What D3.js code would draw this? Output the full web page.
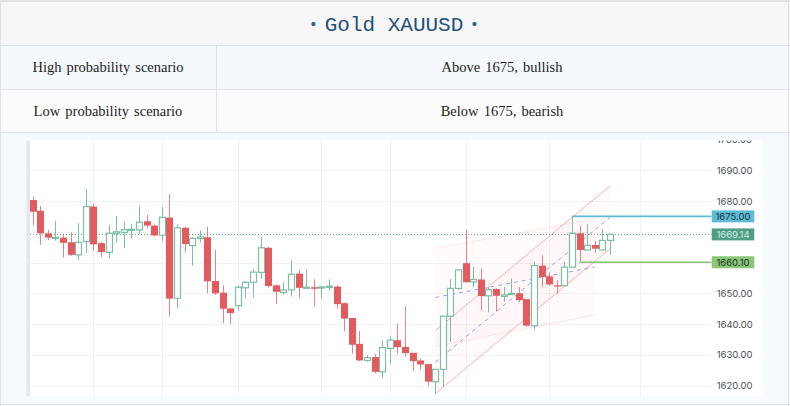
<!DOCTYPE html>
<html>
<head>
<meta charset="utf-8">
<script src="https://cdn.jsdelivr.net/npm/d3@7"></script>
<style>
html,body{margin:0;padding:0;background:#fff;}
svg{display:block;}
</style>
</head>
<body>
<svg id="c" width="790" height="406"></svg>
<script>
// ---------------- DATA ----------------
const titleText = "Gold XAUUSD";
const rowLabels = ["High probability scenario", "Low probability scenario"];
const rowValues = ["Above 1675, bullish", "Below 1675, bearish"];

const opens  = [1680.3,1676.8,1669.5,1667.9,1668.1,1666.6,1662.5,1666.8,1678.2,1666.3,1663.3,1669.5,1669.8,1670.6,1670.6,1673.4,1672.0,1668.9,1674.6,1648.4,1671.3,1665.5,1667.8,1668.2,1654.0,1650.2,1645.1,1646.0,1651.8,1653.6,1656.8,1664.8,1652.6,1650.3,1651.1,1656.4,1651.7,1652.0,1651.7,1652.0,1652.2,1646.8,1642.0,1633.6,1628.2,1629.3,1624.5,1632.1,1634.8,1632.6,1630.7,1628.2,1627.0,1621.3,1625.3,1642.6,1651.6,1659.8,1653.7,1654.5,1649.2,1651.4,1649.0,1649.7,1650.0,1648.1,1639.5,1659.0,1655.5,1652.6,1652.5,1658.5,1669.5,1664.1,1665.7,1664.1,1667.2];
const highs  = [1681.4,1678.4,1670.6,1673.5,1669.3,1669.8,1672.8,1683.8,1679.0,1666.7,1672.2,1675.1,1673.0,1672.6,1678.2,1675.5,1672.4,1678.0,1682.3,1672.4,1671.6,1668.2,1670.4,1671.7,1664.1,1652.6,1645.1,1652.6,1654.0,1657.9,1668.4,1665.2,1652.8,1653.5,1660.8,1657.6,1657.6,1654.6,1652.4,1654.6,1652.6,1647.0,1642.0,1637.8,1630.0,1630.3,1634.7,1636.2,1640.0,1645.7,1630.7,1628.9,1627.0,1625.3,1642.6,1654.6,1657.8,1670.6,1658.6,1658.1,1652.0,1651.6,1652.1,1654.8,1652.1,1648.1,1660.3,1662.4,1656.8,1654.3,1660.3,1675.0,1671.9,1672.5,1667.0,1670.8,1669.3];
const lows   = [1672.0,1665.7,1667.3,1667.1,1661.6,1662.2,1660.8,1663.2,1663.8,1661.7,1661.3,1666.5,1664.7,1667.7,1669.3,1671.1,1668.5,1667.0,1642.4,1645.1,1663.2,1659.0,1666.5,1650.0,1649.5,1640.3,1640.0,1644.4,1648.4,1648.7,1654.7,1651.9,1646.5,1649.6,1648.9,1648.5,1651.5,1645.9,1648.3,1650.9,1645.0,1637.6,1630.4,1628.0,1627.8,1624.0,1622.4,1627.0,1630.4,1629.4,1624.8,1625.3,1620.0,1617.4,1619.7,1634.2,1651.1,1653.6,1652.0,1644.4,1643.8,1644.1,1647.3,1649.5,1647.1,1639.2,1638.3,1652.0,1652.5,1649.8,1652.5,1658.5,1660.1,1664.1,1663.2,1664.1,1662.5];
const closes = [1676.5,1669.5,1668.1,1668.2,1666.4,1662.5,1666.6,1678.2,1665.9,1663.4,1669.5,1670.0,1670.7,1670.8,1673.1,1672.0,1668.8,1674.7,1648.3,1671.3,1666.0,1667.9,1668.3,1653.9,1650.0,1645.0,1643.6,1652.0,1653.6,1656.9,1664.8,1652.4,1650.5,1651.1,1656.2,1651.8,1652.0,1651.5,1652.1,1652.3,1646.5,1641.8,1633.3,1628.2,1629.1,1624.5,1632.4,1634.8,1632.5,1630.6,1628.0,1626.9,1621.3,1625.3,1642.6,1651.6,1657.6,1653.6,1654.5,1649.1,1651.2,1649.2,1649.5,1650.0,1647.8,1639.5,1659.0,1655.3,1652.9,1652.2,1658.5,1669.5,1664.1,1665.6,1664.5,1667.2,1669.14];

const priceTicks = [1620,1630,1640,1650,1660,1670,1680,1690,1700];
const timeGridIdx = [8,17,27,38,47,57,68,80];
const lastPrice = 1669.14;
const resistance = {price:1675.00, fromIdx:71};
const support = {price:1660.10, fromIdx:72};
// steep parallel channel (idx, upper, lower)
const steepChannel = [[53,1637.87,1617.4],[76,1684.9,1664.5]];
// shallow regression band (idx, upper, lower)
const shallowBand = [[53,1664.6,1632.7],[74,1674.1,1643.0]];

// ---------------- LAYOUT ----------------
const svg = d3.select("#c");
const W = 790, H = 406;

svg.append("rect").attr("x",0).attr("y",0).attr("width",W).attr("height",H).attr("fill","#f6f9fd");
svg.append("rect").attr("x",0).attr("y",0).attr("width",W).attr("height",45).attr("fill","#f7f7f7");
svg.append("rect").attr("x",0).attr("y",45).attr("width",W).attr("height",44).attr("fill","#f5f9fd");
svg.append("rect").attr("x",0).attr("y",89).attr("width",W).attr("height",43).attr("fill","#fcfcfc");

// borders
const bc = "#dfe2e6";
svg.append("rect").attr("x",0).attr("y",0).attr("width",W).attr("height",2).attr("fill","#e1e1e1");
[45,89,132].forEach(yy=>svg.append("line").attr("x1",0).attr("x2",W).attr("y1",yy+0.5).attr("y2",yy+0.5).attr("stroke",bc));
svg.append("line").attr("x1",216.5).attr("x2",216.5).attr("y1",45).attr("y2",132).attr("stroke",bc);
svg.append("line").attr("x1",0.5).attr("x2",0.5).attr("y1",0).attr("y2",H).attr("stroke",bc);
svg.append("line").attr("x1",788.5).attr("x2",788.5).attr("y1",0).attr("y2",H).attr("stroke",bc);
svg.append("line").attr("x1",0).attr("x2",W).attr("y1",404.5).attr("y2",404.5).attr("stroke",bc);

// title
svg.append("text").attr("x",394).attr("y",31).attr("text-anchor","middle")
  .attr("font-family","'Liberation Mono', monospace").attr("font-size",21).attr("fill","#1f4f7a")
  .text(titleText);
[313.5,474.5].forEach(bx=>svg.append("text").attr("x",bx).attr("y",29).attr("text-anchor","middle")
  .attr("font-family","'DejaVu Sans', sans-serif").attr("font-size",14).attr("fill","#2a6496").text("•"));

// table rows
rowLabels.forEach((t,i)=>{
  const cy = 67 + i*43.5;
  svg.append("text").attr("x",108).attr("y",cy+5).attr("text-anchor","middle")
    .attr("font-family","'Liberation Serif', serif").attr("font-size",14.5).attr("fill","#1e1e1e")
    .attr("word-spacing",1.5).text(t);
  svg.append("text").attr("x",502).attr("y",cy+5).attr("text-anchor","middle")
    .attr("font-family","'Liberation Serif', serif").attr("font-size",14.5).attr("fill","#1e1e1e")
    .attr("word-spacing",1.5).text(rowValues[i]);
});

// chart panel
const panel = {x:27, y:140.5, w:736, h:256};
const plotR = 711.7;
svg.append("rect").attr("x",panel.x).attr("y",panel.y).attr("width",panel.w).attr("height",panel.h).attr("fill","#ffffff");
svg.append("rect").attr("x",26.5).attr("y",panel.y).attr("width",3.5).attr("height",panel.h).attr("fill","#e3e7ef");

const x = d3.scaleLinear().domain([0,80]).range([32.7,640.4]);
const y = d3.scaleLinear().domain([1620,1690]).range([385.7,170.2]);

const defs = svg.append("defs");
defs.append("clipPath").attr("id","plotclip").append("rect")
  .attr("x",30).attr("y",panel.y).attr("width",plotR-30).attr("height",panel.h);
defs.append("clipPath").attr("id","axisclip").append("rect")
  .attr("x",plotR).attr("y",panel.y).attr("width",60).attr("height",panel.h);

const plot = svg.append("g").attr("clip-path","url(#plotclip)");

// grid
plot.selectAll("line.hg").data(priceTicks).join("line").attr("class","hg")
  .attr("x1",30).attr("x2",plotR).attr("y1",d=>Math.round(y(d))+0.5).attr("y2",d=>Math.round(y(d))+0.5)
  .attr("stroke","#f1f2f4");
plot.selectAll("line.vg").data(timeGridIdx).join("line").attr("class","vg")
  .attr("x1",d=>Math.round(x(d))+0.5).attr("x2",d=>Math.round(x(d))+0.5)
  .attr("y1",panel.y).attr("y2",panel.y+panel.h).attr("stroke","#f1f2f4");

// channel fills
const area2 = (data)=>{
  const pts = data.map(d=>[x(d[0]),y(d[1])]).concat(data.slice().reverse().map(d=>[x(d[0]),y(d[2])]));
  return "M"+pts.map(p=>p.join(",")).join("L")+"Z";
};
plot.append("path").attr("d",area2(shallowBand)).attr("fill","rgba(242,54,69,0.018)");
plot.append("path").attr("d",area2(steepChannel)).attr("fill","rgba(242,54,69,0.018)");

const lineGen = d3.line().x(d=>x(d[0])).y(d=>y(d[1]));
// shallow band edges + median
plot.append("path").attr("d",lineGen(shallowBand.map(d=>[d[0],d[1]]))).attr("fill","none").attr("stroke","rgba(242,54,69,0.12)");
plot.append("path").attr("d",lineGen(shallowBand.map(d=>[d[0],d[2]]))).attr("fill","none").attr("stroke","rgba(242,54,69,0.12)");
plot.append("path").attr("d",lineGen(shallowBand.map(d=>[d[0],(d[1]+d[2])/2]))).attr("fill","none")
  .attr("stroke","#8ea3f2").attr("stroke-dasharray","4,4");
// steep channel edges + median
plot.append("path").attr("d",lineGen(steepChannel.map(d=>[d[0],d[1]]))).attr("fill","none").attr("stroke","rgba(242,80,90,0.45)");
plot.append("path").attr("d",lineGen(steepChannel.map(d=>[d[0],d[2]]))).attr("fill","none").attr("stroke","rgba(242,80,90,0.45)");
plot.append("path").attr("d",lineGen(steepChannel.map(d=>[d[0],(d[1]+d[2])/2]))).attr("fill","none")
  .attr("stroke","#8ea3f2").attr("stroke-dasharray","4,4");

// last price dotted line
plot.append("line").attr("x1",30).attr("x2",plotR).attr("y1",y(lastPrice)).attr("y2",y(lastPrice))
  .attr("stroke","#5aa88d").attr("stroke-dasharray","1,2");

// candles
const candles = opens.map((o,i)=>({i,o,h:highs[i],l:lows[i],c:closes[i]}));
const red = "#e35a5f", grn = "#6fb79c";
const cg = plot.append("g");
cg.selectAll("line.wick").data(candles).join("line").attr("class","wick")
  .attr("x1",d=>Math.round(x(d.i))+0.5).attr("x2",d=>Math.round(x(d.i))+0.5)
  .attr("y1",d=>y(d.h)).attr("y2",d=>y(d.l))
  .attr("stroke",d=>d.c>=d.o?grn:red).attr("stroke-opacity",d=>d.c>=d.o?0.9:0.75);
cg.selectAll("rect.body").data(candles).join("rect").attr("class","body")
  .attr("x",d=>d.c>=d.o?Math.round(x(d.i))-2.5:Math.round(x(d.i))-3)
  .attr("width",d=>d.c>=d.o?6:7)
  .attr("y",d=>y(Math.max(d.o,d.c)))
  .attr("height",d=>Math.max(1.2,y(Math.min(d.o,d.c))-y(Math.max(d.o,d.c))))
  .attr("fill",d=>d.c>=d.o?"#ffffff":red)
  .attr("stroke",d=>d.c>=d.o?grn:"none").attr("stroke-width",1.2).attr("stroke-opacity",0.9);

// level lines
plot.append("line").attr("x1",x(resistance.fromIdx)).attr("x2",plotR).attr("y1",y(resistance.price)).attr("y2",y(resistance.price))
  .attr("stroke","#5fbcd6").attr("stroke-width",1.6);
plot.append("line").attr("x1",x(support.fromIdx)).attr("x2",plotR).attr("y1",y(support.price)).attr("y2",y(support.price))
  .attr("stroke","#86c377").attr("stroke-width",1.6);

// price tags (data)
const tags = [
  {p:resistance.price, bg:"#5fbcd6", fg:"#14323a"},
  {p:lastPrice, bg:"#4f9e86", fg:"#d4efe6"},
  {p:support.price, bg:"#8cc67b", fg:"#17301a"}
];

// price axis: labels hidden beneath a price tag are not drawn (as in the reference)
const visibleTicks = priceTicks.filter(v=>!tags.some(t=>Math.abs(y(t.p)-y(v))<11));
const axisG = svg.append("g").attr("clip-path","url(#axisclip)").append("g").attr("transform",`translate(${plotR+5},0)`)
  .call(d3.axisRight(y).tickValues(visibleTicks).tickFormat(d3.format(".2f")).tickSize(0).tickPadding(0));
axisG.select(".domain").remove();
axisG.selectAll("text").attr("font-family","Inter, sans-serif").attr("font-size",9.5).attr("fill","#4a4d55");

const tg = svg.append("g");
tags.forEach(t=>{
  tg.append("rect").attr("x",plotR).attr("y",y(t.p)-6).attr("width",42.6).attr("height",12).attr("fill",t.bg);
  tg.append("text").attr("x",plotR+21.3).attr("y",y(t.p)+3.4).attr("text-anchor","middle")
    .attr("font-family","Inter, sans-serif").attr("font-size",9.5).attr("fill",t.fg).text(d3.format(".2f")(t.p));
});
</script>
</body>
</html>
